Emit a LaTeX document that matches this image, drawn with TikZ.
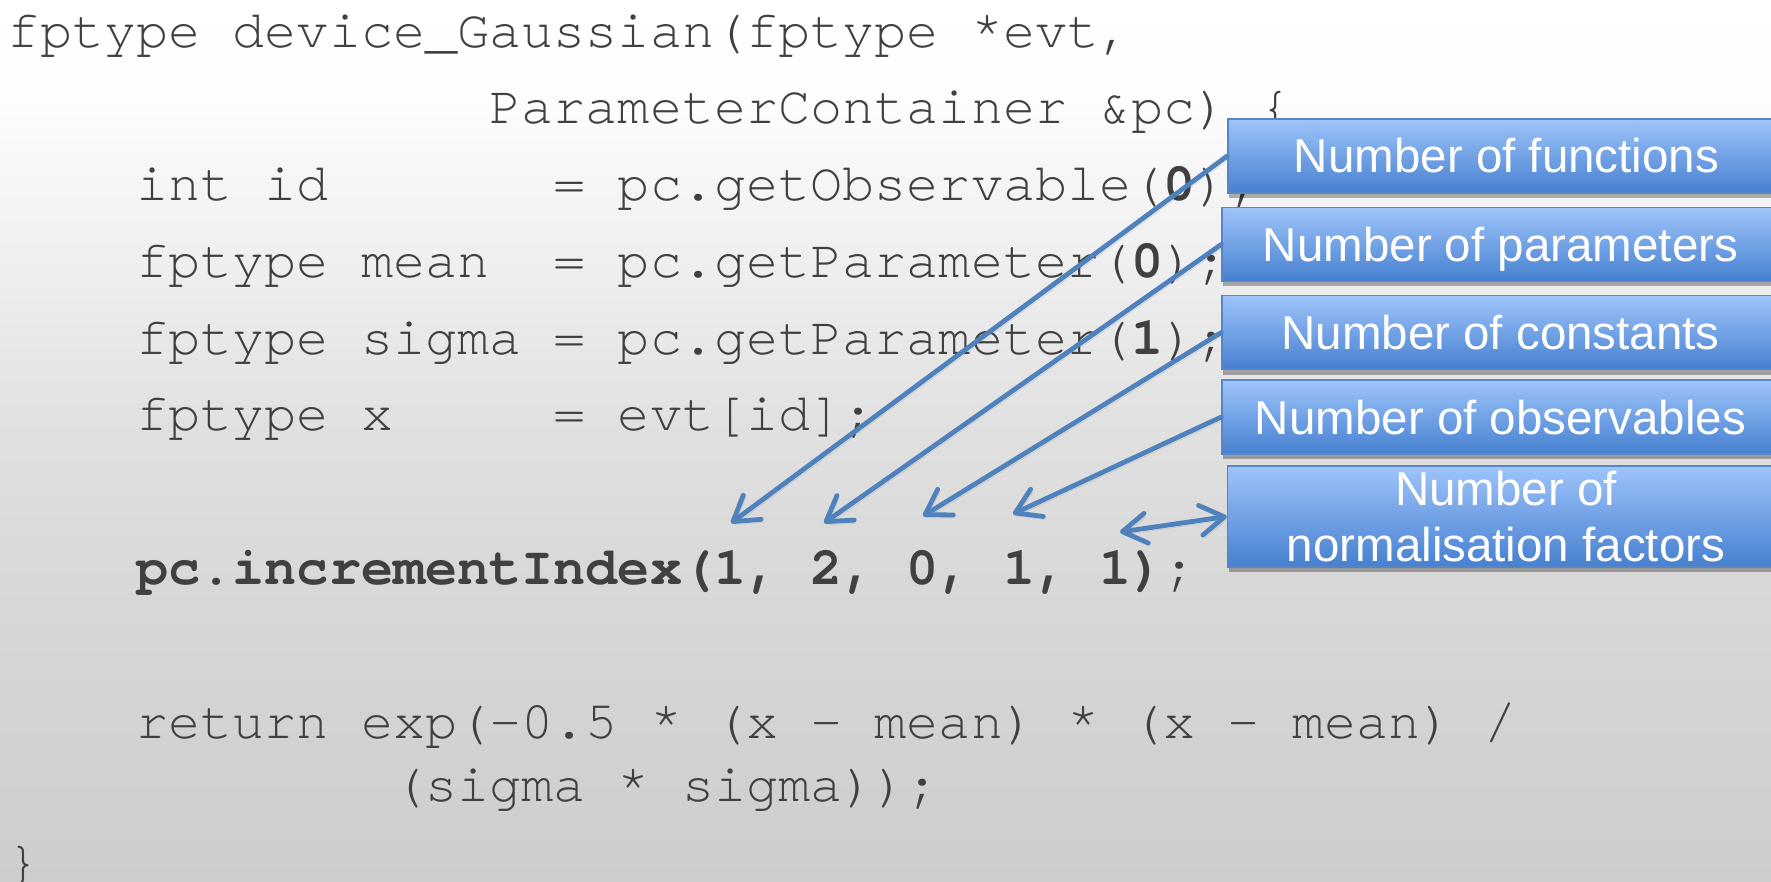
\documentclass[tikz,border=0pt]{standalone}
\usepackage{fontspec}
\setmonofont{texgyrecursor-regular.otf}[BoldFont=texgyrecursor-bold.otf]
\newfontfamily\labelfont{Liberation Sans}
\usetikzlibrary{arrows.meta,shadows}

\definecolor{codegray}{RGB}{64,64,64}
\definecolor{arrowblue}{RGB}{79,129,189}
\definecolor{boxtop}{RGB}{158,196,250}
\definecolor{boxbot}{RGB}{70,128,208}
\definecolor{boxline}{RGB}{84,134,200}
\definecolor{bgA}{RGB}{205,205,205}
\definecolor{bgB}{RGB}{216,216,216}
\definecolor{bgC}{RGB}{224,224,224}
\definecolor{bgD}{RGB}{244,244,244}
\definecolor{bgE}{RGB}{253,253,253}

% page background: white at the top fading to light grey at the bottom
\pgfdeclareverticalshading{pagebg}{100bp}{%
  color(0bp)=(bgA); color(25bp)=(bgA); color(42bp)=(bgB);
  color(50.5bp)=(bgC); color(63.5bp)=(bgD); color(69.5bp)=(bgE);
  color(75bp)=(white); color(100bp)=(white)}

\begin{document}
\begin{tikzpicture}[x=1pt, y=-1pt,
  code/.style={anchor=base west, inner sep=0pt, outer sep=0pt, text=codegray,
    font=\fontsize{53.5}{60}\selectfont\ttfamily\frenchspacing},
  note/.style={draw=boxline, line width=1.5pt, top color=boxtop, bottom color=boxbot,
    minimum width=557pt, minimum height=74pt, inner sep=0pt, text=white,
    font=\fontsize{47.5}{56}\selectfont\labelfont, text height=34pt, text depth=0pt,
    drop shadow={shadow xshift=1pt, shadow yshift=-5pt, opacity=0.3, fill=black}},
  >={Straight Barb[length=24pt, width=30pt, round]},
  pointer/.style={draw=arrowblue, line width=4.8pt, line cap=round, ->,
    preaction={draw=black, opacity=0.15, transform canvas={xshift=2pt, yshift=-3pt}}},
  pointerboth/.style={pointer, <->}
]
\useasboundingbox (0,0) rectangle (1771,882);
\shade[shading=pagebg] (0,0) rectangle (1771,882);

% source listing (one column of the monospaced font = 32.1pt)
\node[code] (l1)  at (8,48)      {fptype device\_Gaussian(fptype *evt,};
\node[code] (l2)  at (489.5,124) {ParameterContainer \&pc) \{};
\node[code] (l3)  at (136.4,201) {int id~~~~~~~= pc.getObservable(\textbf{0});};
\node[code] (l4)  at (136.4,278) {fptype mean~~= pc.getParameter(\textbf{0});};
\node[code] (l5)  at (136.4,354) {fptype sigma = pc.getParameter(\textbf{1});};
\node[code] (l6)  at (136.4,430) {fptype x~~~~~= evt[id];};
\node[code] (l7)  at (136.4,584) {\textbf{pc.incrementIndex(1, 2, 0, 1, 1)};};
\node[code] (l8)  at (136.4,738) {return exp(-0.5 * (x - mean) * (x - mean) /};
\node[code] (l9)  at (393.2,801) {(sigma * sigma));};
\node[code] (l10) at (8,878)     {\}};

% points just above the arguments of incrementIndex
\coordinate (t1) at (731,523);
\coordinate (t2) at (824,523);
\coordinate (t3) at (923,516);
\coordinate (t4) at (1013,514);
\coordinate (t5) at (1120,532);

% callout boxes
\node[note] (b1) at (1506.5,156)   {Number of functions};
\node[note] (b2) at (1500.5,244.5) {Number of parameters};
\node[note] (b3) at (1500.5,332.5) {Number of constants};
\node[note] (b4) at (1500.5,417)   {Number of observables};
\node[note, minimum height=101pt, align=center, text height=90pt] (b5) at (1506,516.5)
  {Number of\\normalisation factors};

% connectors
\draw[pointer] (b1.west) -- (t1);
\draw[pointer] (b2.west) -- (t2);
\draw[pointer] (b3.west) -- (t3);
\draw[pointer] (b4.west) -- (t4);
\draw[pointerboth] (b5.west) -- (t5);
\end{tikzpicture}
\end{document}
